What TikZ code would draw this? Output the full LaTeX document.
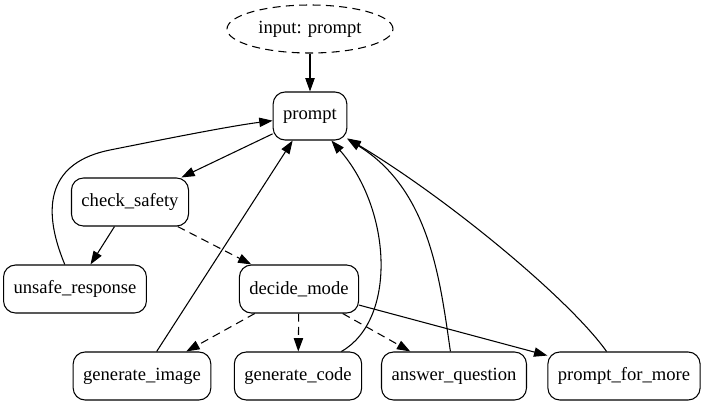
\documentclass[tikz,border=0pt]{standalone}
\usepackage{fontspec}
\setmainfont{Liberation Serif}
\newfontfamily\graphfont{Liberation Serif}
\usetikzlibrary{shapes.geometric, arrows.meta}
\tikzset{
  block/.style={rectangle, rounded corners=9bp, minimum height=36bp,
    inner xsep=7.5bp, text centered, draw=black, line width=0.8pt,
    font=\graphfont\fontsize{14}{16}\selectfont},
  startnode/.style={ellipse, minimum width=124.5bp, minimum height=36bp,
    text centered, draw=black, line width=0.8pt, dash pattern=on 6bp off 4bp,
    font=\graphfont\fontsize{14}{16}\selectfont},
  arrow/.style={line width=0.8pt, -{Triangle[length=10bp, width=7bp]}},
  dasharrow/.style={arrow, dash pattern=on 6bp off 4bp}
}

\begin{document}
\begin{tikzpicture}[x=0.75bp, y=-0.75bp]
\useasboundingbox (0,0) rectangle (706,405);
\node (input)    [startnode] at (310,29)  {input: prompt};
\node (prompt)   [block] at (310,116) {prompt};
\node (check)    [block] at (130,202) {check\_safety};
\node (unsafe)   [block] at (75,289)  {unsafe\_response};
\node (decide)   [block] at (299,289) {decide\_mode};
\node (genimage) [block] at (142,376) {generate\_image};
\node (gencode)  [block] at (298,376) {generate\_code};
\node (answer)   [block] at (454,376) {answer\_question};
\node (more)     [block] at (624,376) {prompt\_for\_more};

\draw[arrow] (input)  -- (prompt);
\draw[arrow] (prompt) -- (check);
\draw[arrow] (check)  -- (unsafe);
\draw[dasharrow] (check)  -- (decide);
\draw[dasharrow] (decide) -- (genimage);
\draw[dasharrow] (decide) -- (gencode);
\draw[dasharrow] (decide) -- (answer);
\draw[arrow] (decide) -- (more);

% loops back to prompt
\draw[arrow] (unsafe) .. controls (40,205) and (50,162) .. (110,150)
  .. controls (160,140) and (230,126) .. (prompt);
\draw[arrow] ([xshift=11bp]genimage.north) -- ([xshift=-13bp]prompt.south);
\draw[arrow] (gencode) .. controls (397,320) and (392,210) .. (prompt);
\draw[arrow] (answer) .. controls (440,280) and (430,190) .. (prompt);
\draw[arrow] (more) .. controls (570,300) and (450,200) .. (prompt);
\end{tikzpicture}
\end{document}
